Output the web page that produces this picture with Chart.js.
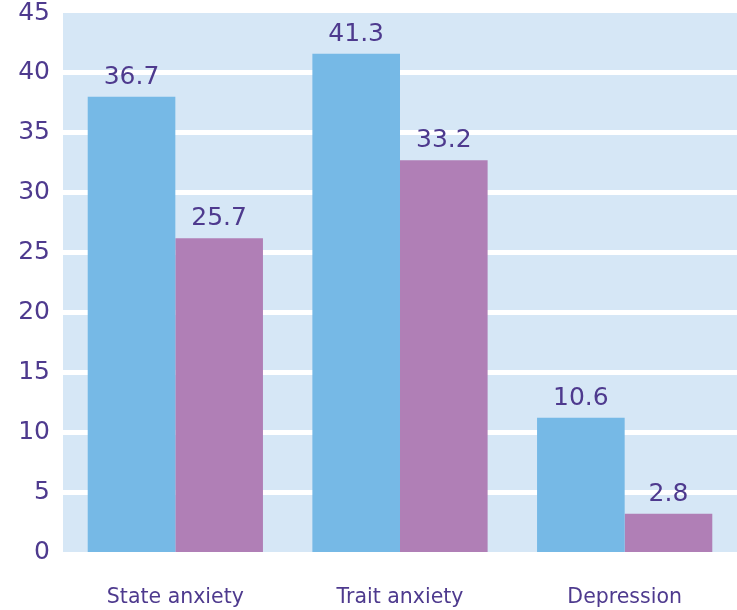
<!DOCTYPE html>
<html>
<head>
<meta charset="utf-8">
<script src="https://cdn.jsdelivr.net/npm/chart.js@4.4.1/dist/chart.umd.min.js"></script>
<style>
  html, body { margin: 0; padding: 0; background: #ffffff; }
  #wrap { width: 737px; height: 610px; position: relative; }
</style>
</head>
<body>
<div id="wrap"><canvas id="c" width="737" height="610"></canvas></div>
<script>
// Categories
const categories = ["State anxiety", "Trait anxiety", "Depression"];
// Bar heights as drawn in the picture
const seriesA = [38.0, 41.6, 11.2];
const seriesB = [26.2, 32.7, 3.2];
// Value labels printed above the bars
const labelsA = ["36.7", "41.3", "10.6"];
const labelsB = ["25.7", "33.2", "2.8"];
// Y axis ticks
const yTicks = [0, 5, 10, 15, 20, 25, 30, 35, 40, 45];

const TEXT = "#4e3a8e";
const FONT = "'DejaVu Sans', sans-serif";

const bgPlugin = {
  id: 'plotBg',
  beforeDraw(chart) {
    const a = chart.chartArea, ctx = chart.ctx;
    ctx.save();
    ctx.fillStyle = "#d6e7f6";
    ctx.fillRect(a.left, a.top, a.right - a.left, a.bottom - a.top);
    ctx.restore();
  }
};

const valuePlugin = {
  id: 'valueLabels',
  afterDatasetsDraw(chart) {
    const ctx = chart.ctx;
    const lbls = [labelsA, labelsB];
    ctx.save();
    ctx.fillStyle = TEXT;
    ctx.font = "25px " + FONT;
    ctx.textAlign = "center";
    ctx.textBaseline = "alphabetic";
    chart.data.datasets.forEach((ds, di) => {
      chart.getDatasetMeta(di).data.forEach((bar, i) => {
        ctx.fillText(lbls[di][i], bar.x, bar.y - 13);
      });
    });
    ctx.restore();
  }
};

const edgeTick = ctx => ctx.tick && (ctx.tick.value === 0 || ctx.tick.value === 45);

new Chart(document.getElementById('c'), {
  type: 'bar',
  data: {
    labels: categories,
    datasets: [
      { data: seriesA, backgroundColor: "#76b9e6", borderWidth: 0, borderSkipped: false, inflateAmount: 0 },
      { data: seriesB, backgroundColor: "#b07fb6", borderWidth: 0, borderSkipped: false, inflateAmount: 0 }
    ]
  },
  options: {
    responsive: false,
    animation: false,
    events: [],
    layout: { padding: { top: 13, right: 0, left: 0, bottom: 0 } },
    plugins: { legend: { display: false }, tooltip: { enabled: false } },
    datasets: { bar: { barPercentage: 1.0, categoryPercentage: 0.78 } },
    scales: {
      x: {
        grid: { display: false, drawTicks: false },
        border: { display: false },
        ticks: { color: TEXT, font: { family: FONT, size: 20.5 }, padding: 33 },
        afterFit(scale) { scale.height = 58; scale.paddingLeft = 0; scale.paddingRight = 0; }
      },
      y: {
        min: 0, max: 45,
        afterBuildTicks(scale) { scale.ticks = yTicks.map(v => ({ value: v })); },
        grid: {
          color: ctx => edgeTick(ctx) ? 'rgba(0,0,0,0)' : '#ffffff',
          lineWidth: ctx => edgeTick(ctx) ? 0 : 5,
          drawTicks: false
        },
        border: { display: false },
        ticks: { color: TEXT, font: { family: FONT, size: 25 }, padding: 13 },
        afterFit(scale) { scale.width = 63; scale.paddingTop = 0; scale.paddingBottom = 0; }
      }
    }
  },
  plugins: [bgPlugin, valuePlugin]
});
</script>
</body>
</html>
